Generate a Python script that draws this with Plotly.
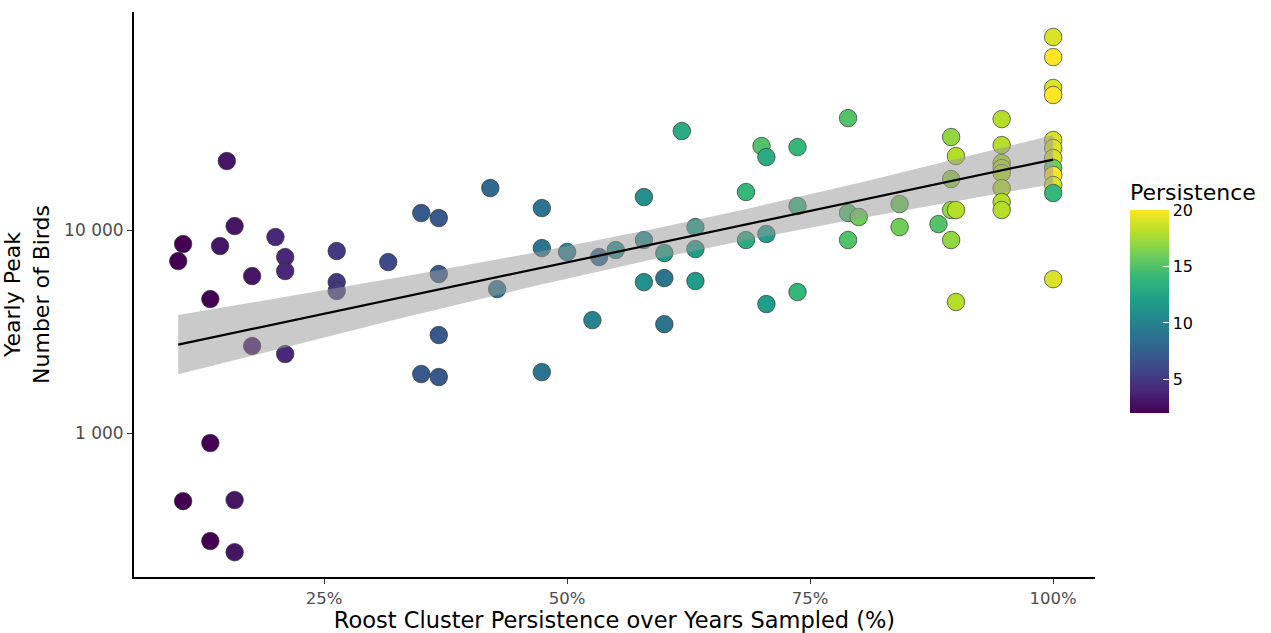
import numpy as np
import plotly.graph_objects as go

# Roost cluster persistence over years sampled (fraction)
pct = [0.100, 0.105, 0.150, 0.158, 0.143, 0.133, 0.176, 0.176, 0.200, 0.210,
       0.210, 0.210, 0.263, 0.263, 0.263, 0.316, 0.350, 0.368, 0.368, 0.368,
       0.350, 0.368, 0.133, 0.105, 0.158, 0.133, 0.158, 0.421, 0.474, 0.474,
       0.428, 0.500, 0.533, 0.550, 0.526, 0.474, 0.579, 0.579, 0.579, 0.600,
       0.600, 0.600, 0.632, 0.632, 0.632, 0.618, 0.684, 0.684, 0.700, 0.705,
       0.705, 0.705, 0.737, 0.737, 0.737, 0.789, 0.789, 0.800, 0.789, 0.842,
       0.842, 0.882, 0.895, 0.900, 0.895, 0.895, 0.900, 0.895, 0.900, 0.947,
       0.947, 0.947, 0.947, 0.947, 0.947, 0.947, 0.947, 1.0, 1.0, 1.0,
       1.0, 1.0, 1.0, 1.0, 1.0, 1.0, 1.0, 1.0, 1.0]
# Yearly peak number of birds
birds = [7030, 8530, 21870, 10460, 8340, 4570, 5930, 2685, 9240, 7360,
         6280, 2450, 7880, 5540, 5010, 6950, 12130, 11460, 6070, 3040,
         1953, 1888, 893, 462, 468, 294, 259, 16100, 12830, 8150,
         5120, 7800, 7360, 7970, 3600, 1997, 14540, 8930, 5540, 7710,
         5800, 3440, 10340, 8060, 5610, 30730, 15390, 8930, 25930, 22880,
         9560, 4320, 25620, 13130, 4950, 35600, 12130, 11590, 8930, 13430,
         10340, 10700, 28700, 23140, 17830, 12550, 12550, 8930, 4420, 35200,
         26200, 21380, 20200, 19080, 16100, 13740, 12550, 89300, 71100, 50100,
         46250, 27750, 25350, 22630, 20200, 18650, 16660, 15220, 5730]
# Persistence (number of years)
persistence = [2, 2, 3, 3, 3, 2, 3, 3, 4, 4,
               4, 4, 5, 5, 5, 6, 7, 7, 7, 7,
               7, 7, 2, 2, 3, 2, 3, 8, 9, 9,
               9, 10, 8, 11, 10, 9, 11, 11, 11, 12,
               9, 9, 12, 12, 12, 13, 14, 13, 15, 13,
               12, 12, 14, 14, 14, 15, 15, 16, 15, 16,
               16, 15, 17, 18, 17, 17, 18, 17, 18, 18,
               18, 18, 18, 18, 18, 18, 18, 19, 20, 19,
               20, 19, 19, 19, 16, 20, 19, 14, 19]

x_ticks = [0.25, 0.5, 0.75, 1.0]
x_tick_labels = ["25%", "50%", "75%", "100%"]
y_ticks = [1000, 10000]
y_tick_labels = ["1 000", "10 000"]
cbar_ticks = [5, 10, 15, 20]

# Linear fit of log10(birds) on pct with 95% confidence band
x = np.array(pct)
ly = np.log10(np.array(birds))
n = len(x)
b1, b0 = np.polyfit(x, ly, 1)
resid = ly - (b0 + b1 * x)
s = np.sqrt(np.sum(resid ** 2) / (n - 2))
xbar = x.mean()
sxx = np.sum((x - xbar) ** 2)
tcrit = 1.988
xs = np.linspace(x.min(), x.max(), 80)
fit = b0 + b1 * xs
se = s * np.sqrt(1.0 / n + (xs - xbar) ** 2 / sxx)
lo = 10 ** (fit - tcrit * se)
hi = 10 ** (fit + tcrit * se)
mid = 10 ** fit

fig = go.Figure()
fig.add_trace(go.Scatter(
    x=pct, y=birds, mode="markers", showlegend=False,
    marker=dict(size=17.5, color=persistence, colorscale="Viridis", cmin=2, cmax=20,
                line=dict(color="#333333", width=0.7), opacity=1,
                colorbar=dict(
                    title=dict(text="Persistence", side="top",
                               font=dict(size=22, color="#000000", family="DejaVu Sans")),
                    tickvals=cbar_ticks, ticks="inside", tickcolor="white", ticklen=6,
                    tickfont=dict(size=16, color="#000000", family="DejaVu Sans"),
                    thickness=39, thicknessmode="pixels", len=233, lenmode="pixels",
                    x=1.0364, xanchor="left", xpad=0, y=0.290, yanchor="bottom", ypad=0,
                    outlinewidth=0)),
    hoverinfo="skip"))
fig.add_trace(go.Scatter(x=xs, y=lo, mode="lines", line=dict(width=0), showlegend=False,
                         hoverinfo="skip"))
fig.add_trace(go.Scatter(x=xs, y=hi, mode="lines", line=dict(width=0), fill="tonexty",
                         fillcolor="rgba(153,153,153,0.52)", showlegend=False, hoverinfo="skip"))
fig.add_trace(go.Scatter(x=xs, y=mid, mode="lines", line=dict(color="black", width=2.2),
                         showlegend=False, hoverinfo="skip"))

fig.update_layout(
    width=1271, height=633,
    margin=dict(l=134, r=176, t=12, b=56),
    paper_bgcolor="white", plot_bgcolor="white",
    font=dict(family="DejaVu Sans", color="#000000"),
    xaxis=dict(range=[0.0545, 1.043], tickvals=x_ticks, ticktext=x_tick_labels,
               showgrid=False, zeroline=False, showline=True, linecolor="black", linewidth=2,
               ticks="outside", ticklen=5, tickcolor="#333333", tickwidth=1.2,
               tickfont=dict(size=16.5, color="#4d4d4d"), automargin=False,
               title=dict(text="Roost Cluster Persistence over Years Sampled (%)",
                          font=dict(size=22.5, color="#000000"), standoff=4)),
    yaxis=dict(type="log", range=[2.291, 5.074], tickvals=y_ticks, ticktext=y_tick_labels,
               showgrid=False, zeroline=False, showline=True, linecolor="black", linewidth=2,
               ticks="outside", ticklen=5, tickcolor="#333333", tickwidth=1.2,
               tickfont=dict(size=17, color="#4d4d4d"), automargin=False,
               title=dict(text="Yearly Peak<br>Number of Birds",
                          font=dict(size=22, color="#000000"), standoff=10)),
)

fig.write_html("out.html")
